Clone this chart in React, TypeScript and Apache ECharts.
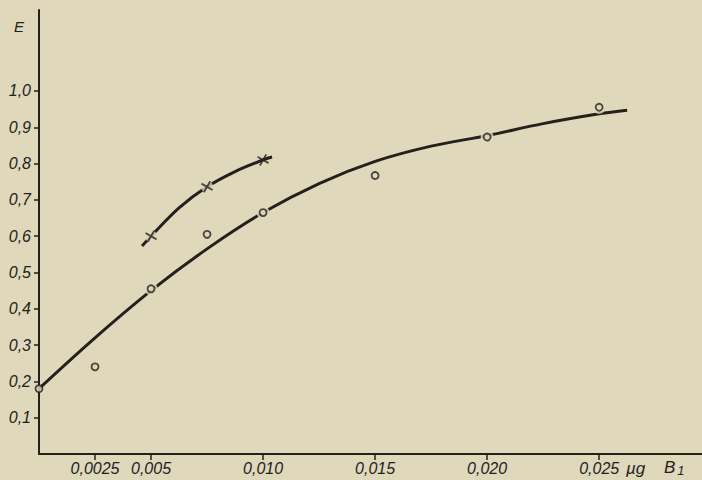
import React, { useEffect, useRef } from "react";
import * as echarts from "echarts";

const circleX = [0, 0.0025, 0.005, 0.0075, 0.01, 0.015, 0.02, 0.025];
const circleE = [0.18, 0.24, 0.455, 0.605, 0.665, 0.767, 0.873, 0.955];
const crossX = [0.005, 0.0075, 0.01];
const crossE = [0.6, 0.736, 0.81];
const lowerCurveX = [0, 0.0025, 0.005, 0.0075, 0.01, 0.0125, 0.015, 0.0175, 0.02, 0.0225, 0.025, 0.02625];
const lowerCurveE = [0.18, 0.32, 0.45, 0.565, 0.665, 0.745, 0.806, 0.848, 0.877, 0.91, 0.937, 0.947];
const upperCurveX = [0.0046, 0.005, 0.00625, 0.0075, 0.00875, 0.01, 0.0104];
const upperCurveE = [0.573, 0.6, 0.678, 0.736, 0.778, 0.81, 0.818];
const xTicks = [0.0025, 0.005, 0.01, 0.015, 0.02, 0.025];
const yTicks = [0.1, 0.2, 0.3, 0.4, 0.5, 0.6, 0.7, 0.8, 0.9, 1.0];

const PAPER = "#dfd8bb";
const INK = "#24211d";
const FONT = "Liberation Sans";

const fmt = (v: number, d: number) => v.toFixed(d).replace(".", ",");

export default function App() {
  const ref = useRef<HTMLDivElement>(null);
  useEffect(() => {
    if (!ref.current) return;
    const chart = echarts.init(ref.current, null, { renderer: "svg" });
    const zip = (xs: number[], ys: number[]) => xs.map((x, i) => [x, ys[i]]);
    chart.setOption({
      animation: false,
      backgroundColor: PAPER,
      grid: { left: 39, right: 0, top: 10, bottom: 26 },
      xAxis: {
        type: "value",
        min: 0,
        max: 0.02959,
        interval: 0.0025,
        splitLine: { show: false },
        axisLine: { lineStyle: { color: INK, width: 2 } },
        axisTick: { customValues: xTicks, length: 6, lineStyle: { color: INK, width: 1.5 } },
        axisLabel: {
          customValues: xTicks,
          color: INK,
          fontFamily: FONT,
          fontStyle: "italic",
          fontSize: 16,
          margin: 6,
          formatter: (v: number) => (v === 0.0025 ? "0,0025" : fmt(v, 3)),
        },
      },
      yAxis: {
        type: "value",
        min: 0,
        max: 1.223,
        interval: 0.1,
        splitLine: { show: false },
        axisLine: { lineStyle: { color: INK, width: 2 } },
        axisTick: { customValues: yTicks, length: 5, lineStyle: { color: INK, width: 1.5 } },
        axisLabel: {
          customValues: yTicks,
          color: INK,
          fontFamily: FONT,
          fontStyle: "italic",
          fontSize: 16,
          margin: 8,
          formatter: (v: number) => fmt(v, 1),
        },
      },
      graphic: [
        {
          type: "text",
          left: 14,
          top: 19,
          style: { text: "E", fill: INK, font: `italic 15px '${FONT}'` },
        },
        {
          type: "text",
          left: 626,
          top: 460,
          style: { text: "µg", fill: INK, font: `italic 17px '${FONT}'` },
        },
        {
          type: "text",
          left: 664,
          top: 459,
          style: {
            text: "{b|B}{s|1}",
            fill: INK,
            rich: {
              b: { fill: INK, fontFamily: FONT, fontStyle: "italic", fontSize: 17 },
              s: { fill: INK, fontFamily: FONT, fontStyle: "italic", fontSize: 13, padding: [6, 0, 0, 2] },
            },
          },
        },
      ],
      series: [
        {
          type: "line",
          data: zip(lowerCurveX, lowerCurveE),
          smooth: 0.35,
          showSymbol: false,
          lineStyle: { color: INK, width: 3 },
          z: 2,
        },
        {
          type: "line",
          data: zip(upperCurveX, upperCurveE),
          smooth: 0.35,
          showSymbol: false,
          lineStyle: { color: INK, width: 3 },
          z: 2,
        },
        {
          type: "scatter",
          data: zip(circleX.slice(1), circleE.slice(1)),
          symbol: "circle",
          symbolSize: 13,
          itemStyle: { color: PAPER },
          z: 3,
          silent: true,
        },
        {
          type: "scatter",
          data: zip(crossX.slice(0, 2), crossE.slice(0, 2)),
          symbol: "circle",
          symbolSize: 12,
          itemStyle: { color: PAPER },
          z: 3,
          silent: true,
        },
        {
          type: "scatter",
          data: zip(circleX, circleE),
          symbol: "circle",
          symbolSize: 7,
          itemStyle: { color: PAPER, borderColor: INK, borderWidth: 1.8 },
          z: 4,
        },
        {
          type: "scatter",
          data: zip(crossX, crossE),
          symbol: "path://M0,0L10,10M10,0L0,10",
          symbolSize: 9,
          symbolRotate: 15,
          itemStyle: { color: "none", borderColor: INK, borderWidth: 1.8 },
          z: 4,
        },
      ],
    });
    return () => chart.dispose();
  }, []);
  return <div ref={ref} style={{ position: "fixed", left: 0, top: 0, width: 702, height: 480 }} />;
}
